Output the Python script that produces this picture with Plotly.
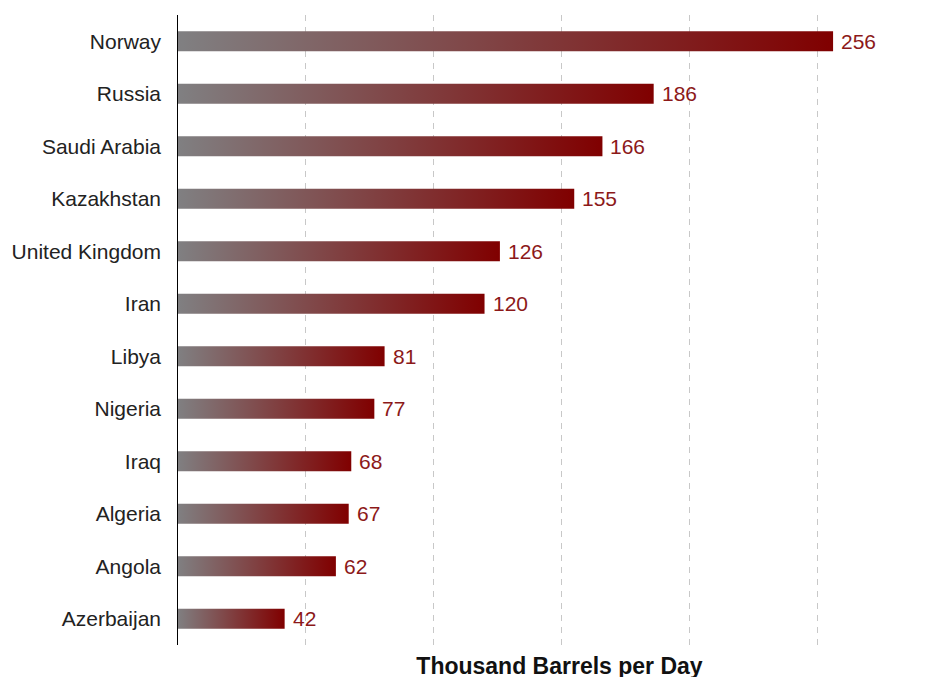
import plotly.graph_objects as go

countries = ["Norway", "Russia", "Saudi Arabia", "Kazakhstan", "United Kingdom", "Iran",
             "Libya", "Nigeria", "Iraq", "Algeria", "Angola", "Azerbaijan"]
values = [256, 186, 166, 155, 126, 120, 81, 77, 68, 67, 62, 42]

bar_half = 0.19
fig = go.Figure()
for i, (c, v) in enumerate(zip(countries, values)):
    fig.add_trace(go.Scatter(
        x=[0, v, v, 0, 0],
        y=[i - bar_half, i - bar_half, i + bar_half, i + bar_half, i - bar_half],
        mode="lines", line=dict(width=0), fill="toself",
        fillgradient=dict(type="horizontal",
                          colorscale=[[0, "rgb(128,128,130)"], [1, "rgb(128,0,0)"]]),
        hoverinfo="skip", showlegend=False, name=c))

annotations = [dict(x=v, y=i, xref="x", yref="y", text=str(v), showarrow=False,
                    xanchor="left", yanchor="middle", xshift=6,
                    font=dict(family="Liberation Sans, Arial", size=21, color="rgb(140,25,25)"))
               for i, v in enumerate(values)]

fig.update_layout(
    width=934, height=677,
    margin=dict(l=169, r=0, t=7, b=40),
    paper_bgcolor="white", plot_bgcolor="white",
    font=dict(family="Liberation Sans, Arial", size=21, color="#222222"),
    xaxis=dict(range=[0, 298.5], showticklabels=False, ticks="",
               tickvals=[50, 100, 150, 200, 250], showgrid=True,
               gridcolor="#c8c8c8", griddash="6px,6px", gridwidth=1,
               zeroline=False, showline=False,
               title=dict(text="<b>Thousand Barrels per Day</b>", standoff=12,
                          font=dict(size=23, color="#111111"))),
    yaxis=dict(range=[11.5, -0.5], tickvals=list(range(len(countries))),
               ticktext=countries, ticks="", showgrid=False, zeroline=False,
               showline=False, ticklabelstandoff=15,
               tickfont=dict(size=21, color="#222222")),
    shapes=[dict(type="line", xref="x", yref="paper", x0=0, x1=0, y0=0, y1=1,
                 line=dict(color="black", width=2))],
    annotations=annotations,
)

fig.write_html("out.html")
